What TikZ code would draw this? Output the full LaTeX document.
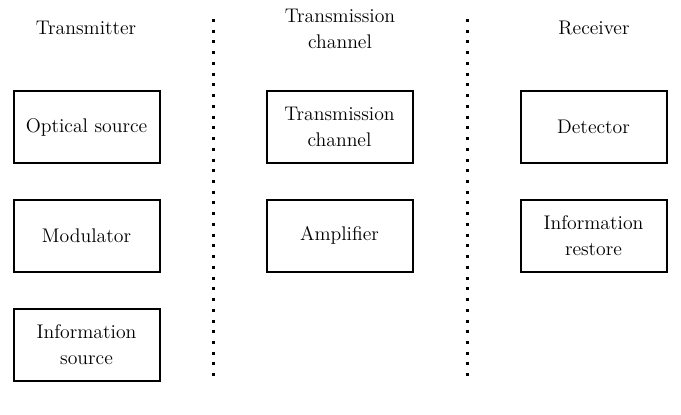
\documentclass[tikz,border=0pt]{standalone}
\begin{document}
\begin{tikzpicture}[x=0.75pt,y=-0.75pt,
  blk/.style={draw,line width=1.5pt,minimum width=109.5pt,minimum height=54pt,inner sep=0pt,align=center,font=\fontsize{14.8}{19.5}\selectfont},
  hdr/.style={align=center,font=\fontsize{14.8}{19.5}\selectfont},
  sep/.style={line width=2.25pt,dash pattern=on 2.25pt off 5.8pt}]
\useasboundingbox (0,0) rectangle (681,414);
\node[hdr] (h1) at (86,28) {Transmitter};
\node[hdr] (h2) at (340,29) {Transmission\\channel};
\node[hdr] (h3) at (594,28) {Receiver};
\node[blk] (a1) at (86.5,127) {Optical source};
\node[blk] (a2) at (86.5,235.5) {Modulator};
\node[blk] (a3) at (86.5,344.5) {Information\\source};
\node[blk] (b1) at (339.5,127) {Transmission\\channel};
\node[blk] (b2) at (339.5,235.5) {Amplifier};
\node[blk] (c1) at (593.5,127) {Detector};
\node[blk] (c2) at (593.5,235.5) {Information\\restore};
\coordinate (d1t) at (213,19);
\coordinate (d1b) at (213,382);
\coordinate (d2t) at (467,19);
\coordinate (d2b) at (467,382);
\draw[sep] (d1t) -- (d1b);
\draw[sep] (d2t) -- (d2b);
\end{tikzpicture}
\end{document}
